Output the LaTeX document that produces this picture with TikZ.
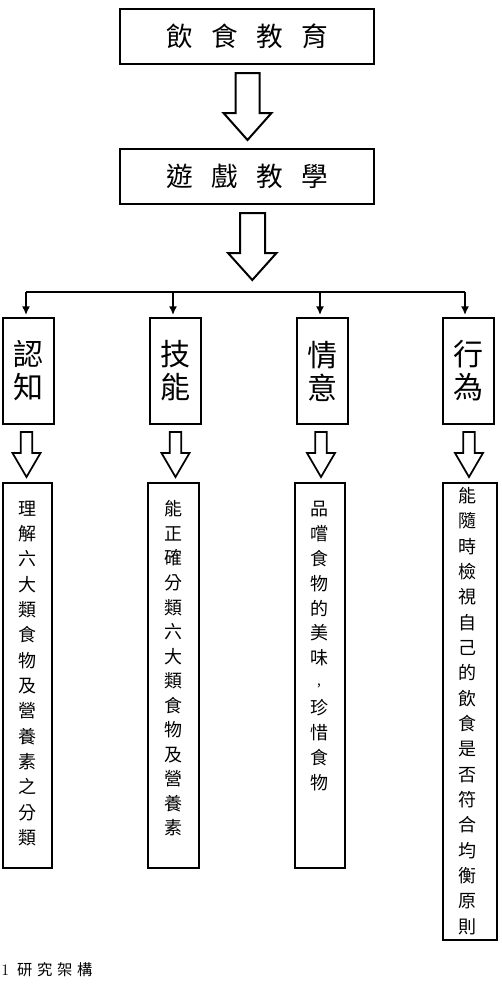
\documentclass[tikz,border=0pt]{standalone}
\usepackage{fontspec}
\newfontfamily\cjk{Noto Sans CJK TC}
\usetikzlibrary{arrows.meta}
\def\px{0.75pt}
\tikzset{
  bigbox/.style={draw, line width=1.5pt, inner sep=0pt, minimum width=254*\px, minimum height=55*\px,
    font={\cjk\fontsize{20}{24}\selectfont}},
  catbox/.style={draw, line width=1.4pt, inner sep=0pt, minimum width=51*\px, minimum height=106*\px,
    align=center, font={\cjk\fontsize{22.5}{24.75}\selectfont}},
  descbox/.style={draw, line width=1.3pt, inner sep=0pt},
  desctext/.style={inner sep=0pt, align=center},
  hollow/.style={draw, line width=1.5pt, fill=white, line join=miter},
  smallhollow/.style={draw, line width=1.3pt, fill=white, line join=miter},
  bus/.style={line width=1.5pt},
  drop/.style={line width=1.5pt, -{Latex[length=6.5pt,width=6pt]}, shorten >=1.5pt},
}
\newcommand\gapsp{\hspace{13.75pt}}
\begin{document}
\begin{tikzpicture}[x=0.75pt,y=-0.75pt]
\useasboundingbox (0,0) rectangle (501,989);

% top boxes
\node[bigbox] (edu) at (247,36.5) {飲\gapsp 食\gapsp 教\gapsp 育};
\node[bigbox] (game) at (247,176.5) {遊\gapsp 戲\gapsp 教\gapsp 學};

% hollow arrow 1
\draw[hollow] (235.5,73) -- (259.5,73) -- (259.5,113) -- (271.5,113) -- (247.5,140)
  -- (223.5,113) -- (235.5,113) -- cycle;
% hollow arrow 2
\draw[hollow] (240,213) -- (265,213) -- (265,253) -- (276.5,253) -- (252.3,280)
  -- (228,253) -- (240,253) -- cycle;

% category boxes
\node[catbox] (cog) at (28.5,371) {認\\知};
\node[catbox] (skl) at (175.5,371) {技\\能};
\node[catbox] (aff) at (322.5,371) {情\\意};
\node[catbox] (beh) at (468.5,371) {行\\為};

% bus
\coordinate (b1) at (26,292);
\coordinate (b2) at (173,292);
\coordinate (b3) at (320,292);
\coordinate (b4) at (465,292);
\draw[bus] (b1) -- (b4);
\draw[drop] (b1) -- (b1 |- cog.north);
\draw[drop] (b2) -- (b2 |- skl.north);
\draw[drop] (b3) -- (b3 |- aff.north);
\draw[drop] (b4) -- (b4 |- beh.north);

% small hollow arrows
\foreach \cx in {26.5,175.5,321,469}{
  \draw[smallhollow] (\cx-5.8,432) -- (\cx+5.8,432) -- (\cx+5.8,453) -- (\cx+14,453) -- (\cx,477)
    -- (\cx-14,453) -- (\cx-5.8,453) -- cycle;
}

% description boxes
\node[descbox, minimum width=49*\px, minimum height=385*\px] (d1) at (27.5,675.5) {};
\node[descbox, minimum width=51*\px, minimum height=385*\px] (d2) at (173.5,675.5) {};
\node[descbox, minimum width=50*\px, minimum height=385*\px] (d3) at (320,675.5) {};
\node[descbox, minimum width=54*\px, minimum height=457*\px] (d4) at (470,711.5) {};

\node[desctext, font={\cjk\fontsize{13.5}{19}\selectfont}] (t1) at (27,673.5)
  {理\\解\\六\\大\\類\\食\\物\\及\\營\\養\\素\\之\\分\\類};
\node[desctext, font={\cjk\fontsize{13.5}{18.4}\selectfont}] (t2) at (173,668.5)
  {能\\正\\確\\分\\類\\六\\大\\類\\食\\物\\及\\營\\養\\素};
\node[desctext, font={\cjk\fontsize{13.5}{18.7}\selectfont}] (t3) at (319,646)
  {品\\嚐\\食\\物\\的\\美\\味\\\raisebox{3pt}{\fontsize{10}{10}\selectfont ,}\\珍\\惜\\食\\物};
\node[desctext, font={\cjk\fontsize{13.5}{19}\selectfont}] (t4) at (467,711)
  {能\\隨\\時\\檢\\視\\自\\己\\的\\飲\\食\\是\\否\\符\\合\\均\\衡\\原\\則};

% caption
\node[anchor=west, inner sep=0pt, font={\fontsize{12}{14}\selectfont}] (cap) at (1,970)
  {1\hspace{6pt}{\cjk\fontsize{11.5}{13}\selectfont 研\hspace{3.5pt}究\hspace{3.5pt}架\hspace{3.5pt}構}};
\end{tikzpicture}
\end{document}
